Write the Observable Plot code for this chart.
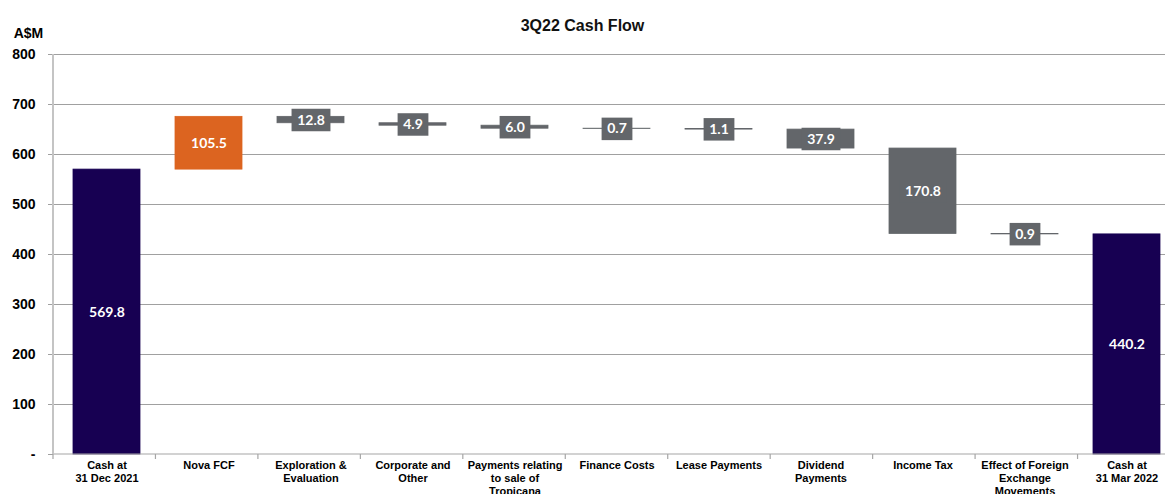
<!DOCTYPE html>
<html>
<head>
<meta charset="utf-8">
<script src="https://cdn.jsdelivr.net/npm/d3@7"></script>
<script src="https://cdn.jsdelivr.net/npm/@observablehq/plot@0.6"></script>
<style>
  html, body { margin: 0; padding: 0; background: #fff; overflow: hidden; }
  #wrap { position: relative; width: 1165px; height: 494px; overflow: hidden; }
  #chart { width: 1180px; }
  #title { position: absolute; left: 0; top: 17px; width: 1165px; text-align: center;
           font: bold 16px "Liberation Sans", Arial, sans-serif; color: #111; }
</style>
</head>
<body>
<div id="wrap">
  <div id="chart"></div>
  <div id="title">3Q22 Cash Flow</div>
</div>
<script>
// ---- data ----
const categories = [
  "Cash at\n31 Dec 2021",
  "Nova FCF",
  "Exploration &\nEvaluation",
  "Corporate and\nOther",
  "Payments relating\nto sale of\nTropicana",
  "Finance Costs",
  "Lease Payments",
  "Dividend\nPayments",
  "Income Tax",
  "Effect of Foreign\nExchange\nMovements",
  "Cash at\n31 Mar 2022"
];
const values = [569.8, 105.5, -12.8, -4.9, -6.0, -0.7, -1.1, -37.9, -170.8, -0.9, 440.2];
const kinds  = ["total", "increase", "decrease", "decrease", "decrease", "decrease", "decrease", "decrease", "decrease", "decrease", "total"];
const yTicks = [0, 100, 200, 300, 400, 500, 600, 700, 800];
const yLabel = "A$M";

const colors = { total: "#170052", increase: "#dc6420", decrease: "#63666a" };

// ---- build waterfall table ----
let running = 0;
const rows = categories.map((c, i) => {
  const v = values[i];
  let y1, y2;
  if (kinds[i] === "total") { y1 = 0; y2 = v; running = v; }
  else { y1 = running; y2 = running + v; running = y2; }
  return { cat: c, y1, y2, mid: (y1 + y2) / 2, kind: kinds[i], label: Math.abs(v).toFixed(1) };
});

// ---- layout ----
const W = 1180, H = 494, ML = 53, MR = 0, MT = 54, MB = 40;
const n = categories.length;
const font = "'Liberation Sans', Arial, sans-serif";
const labelFont = "Lato, 'Open Sans', sans-serif";

// box symbol sized to the label text
function labelWidth(s) {
  let w = 0;
  for (const ch of s) w += ch === "." ? 3.6 : 8.1;
  return w + 11;
}
function boxSymbol(w, h) {
  return { draw(ctx) { ctx.moveTo(-w / 2, -h / 2); ctx.lineTo(w / 2, -h / 2); ctx.lineTo(w / 2, h / 2); ctx.lineTo(-w / 2, h / 2); ctx.closePath(); } };
}

// axis lines and category boundary ticks
function axesRender(index, scales, values, dims) {
  const g = d3.create("svg:g");
  const y0 = scales.y(0), yTop = scales.y(yTicks[yTicks.length - 1]);
  const left = dims.marginLeft, right = dims.width - dims.marginRight;
  const st = (right - left) / n;
  g.append("line").attr("x1", left).attr("x2", right).attr("y1", y0).attr("y2", y0)
    .attr("stroke", "#a6a6a6").attr("stroke-width", 1.2);
  for (let i = 0; i <= n; i++) {
    const x = left + i * st;
    g.append("line").attr("x1", x).attr("x2", x).attr("y1", y0).attr("y2", y0 + 5)
      .attr("stroke", "#a6a6a6").attr("stroke-width", 1.2);
  }
  g.append("line").attr("x1", left).attr("x2", left).attr("y1", yTop).attr("y2", y0)
    .attr("stroke", "#c4c4c4").attr("stroke-width", 2);
  return g.node();
}

const boxRows = rows.filter(d => d.kind === "decrease");

const chart = Plot.plot({
  width: W, height: H,
  marginLeft: ML, marginRight: MR, marginTop: MT, marginBottom: MB,
  style: { fontFamily: font, background: "transparent", overflow: "visible", maxWidth: "none" },
  x: { domain: categories, paddingInner: 0.34, paddingOuter: 0.17, axis: null },
  y: { domain: [0, 800], axis: null },
  marks: [
    Plot.gridY(yTicks.filter(t => t > 0), { stroke: "#a0a0a0", strokeOpacity: 1, strokeWidth: 1.1 }),
    Plot.axisY(yTicks, {
      tickSize: 5, tickPadding: 13, stroke: "#a0a0a0", fill: "#000",
      fontSize: 14, fontWeight: "bold", label: null,
      tickFormat: d => d === 0 ? "-" : String(d)
    }),
    Plot.text([yLabel], { frameAnchor: "top-left", textAnchor: "middle", lineAnchor: "middle",
      dx: -25, dy: -21, text: d => d, fontSize: 14, fontWeight: "bold", fill: "#000" }),
    Plot.barY(rows, { x: "cat", y1: "y1", y2: "y2", fill: d => colors[d.kind],
      stroke: d => colors[d.kind], strokeWidth: 0.8, insetLeft: 0, insetRight: 0 }),
    axesRender,
    ...boxRows.map(d => Plot.dot([d], { x: "cat", y: "mid", fill: colors.decrease, stroke: "none",
      symbol: boxSymbol(labelWidth(d.label), 22.5) })),
    Plot.text(rows, { x: "cat", y: "mid", text: "label", fill: "white",
      fontFamily: labelFont, fontWeight: "bold", fontSize: 14 }),
    Plot.text(categories, { x: d => d, frameAnchor: "bottom", lineAnchor: "top", dy: 5,
      text: d => d, fontSize: 11, fontWeight: "bold", fill: "#000", lineHeight: 1.18 })
  ]
});
chart.style.maxWidth = "none";
document.getElementById("chart").appendChild(chart);
</script>
</body>
</html>
